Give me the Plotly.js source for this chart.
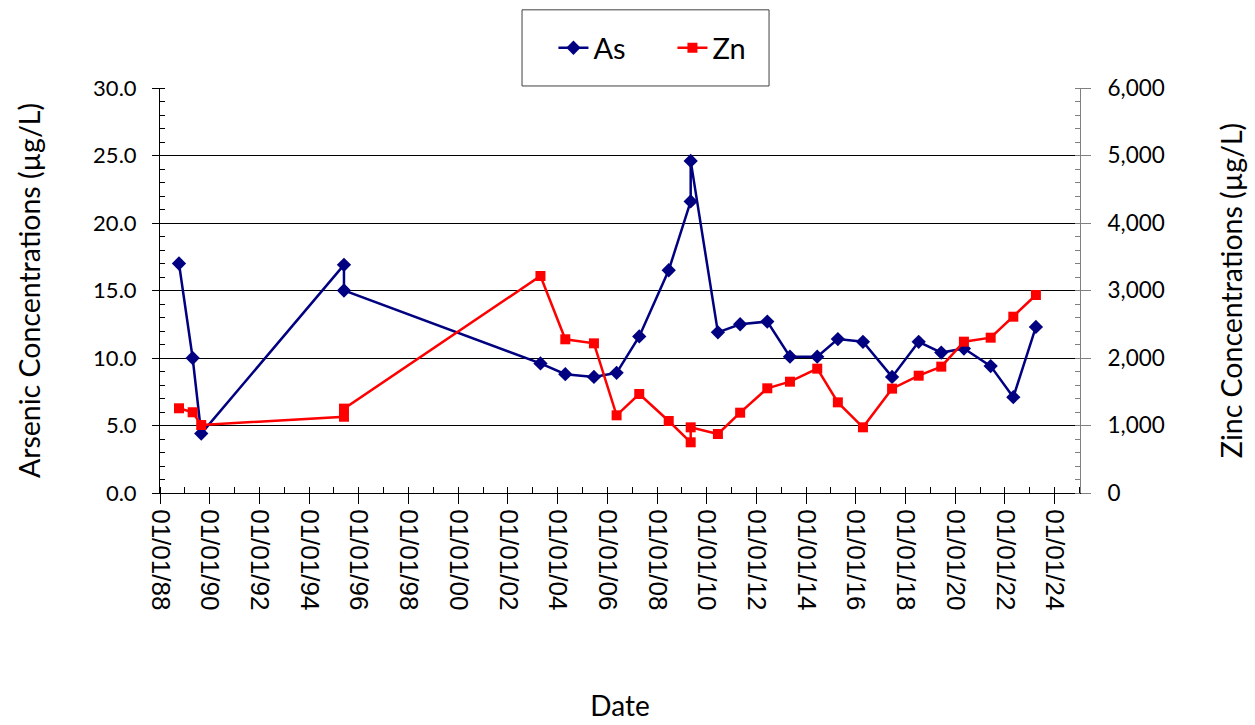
<!DOCTYPE html>
<html>
<head>
<meta charset="utf-8">
<script src="https://cdn.plot.ly/plotly-3.0.1.min.js"></script>
<style>
  html, body { margin: 0; padding: 0; background: #fff; }
  #chart { width: 1255px; height: 725px; }
</style>
</head>
<body>
<div id="chart"></div>
<script>
// Sampling dates (shared by both series)
const sampleDates = [
  "1988-10-06", "1989-04-25", "1989-08-29", "1995-05-28", "1995-05-28",
  "2003-04-24", "2004-04-23", "2005-06-18", "2006-05-17", "2007-04-15",
  "2008-06-21", "2009-05-10", "2009-05-10", "2010-06-14", "2011-05-07",
  "2012-06-09", "2013-05-08", "2014-06-13", "2015-04-12", "2016-04-15",
  "2017-06-17", "2018-07-13", "2019-06-10", "2020-05-08", "2021-06-05",
  "2022-05-04", "2023-04-01"
];
// Arsenic (µg/L)
const asValues = [
  17.0, 10.0, 4.4, 16.9, 15.0,
  9.6, 8.8, 8.6, 8.9, 11.6,
  16.5, 21.6, 24.6, 11.9, 12.5,
  12.7, 10.1, 10.1, 11.4, 11.2,
  8.6, 11.2, 10.4, 10.7, 9.4,
  7.1, 12.3
];
// Zinc (µg/L)
const znValues = [
  1255, 1196, 1007, 1130, 1250,
  3215, 2277, 2217, 1151, 1467,
  1067, 751, 973, 874, 1190,
  1551, 1649, 1842, 1343, 973,
  1546, 1738, 1872, 2242, 2301,
  2612, 2933
];
const seriesNames = ["As", "Zn"];
const xTitle = "Date";
const yTitle = "Arsenic Concentrations (µg/L)";
const y2Title = "Zinc Concentrations (µg/L)";

const calib = "Lato, 'Open Sans', sans-serif";

const traces = [
  {
    x: sampleDates, y: asValues, name: seriesNames[0], type: "scatter", mode: "lines+markers",
    line: { color: "#000080", width: 2.5 },
    marker: { symbol: "diamond", size: 11, color: "#000080" },
    yaxis: "y"
  },
  {
    x: sampleDates, y: znValues, name: seriesNames[1], type: "scatter", mode: "lines+markers",
    line: { color: "#FF0000", width: 2.5 },
    marker: { symbol: "square", size: 10, color: "#FF0000" },
    yaxis: "y2"
  }
];

const layout = {
  width: 1255, height: 725,
  margin: { l: 160, r: 175, t: 88, b: 232 },
  paper_bgcolor: "#fff", plot_bgcolor: "#fff",
  showlegend: true,
  legend: {
    orientation: "h", x: 0.557, xanchor: "center", y: 1.099, yanchor: "middle",
    font: { family: calib, size: 29, color: "#000" },
    bgcolor: "rgba(0,0,0,0)", borderwidth: 0, entrywidth: 74, entrywidthmode: "pixels"
  },
  shapes: [{
    type: "rect", xref: "paper", yref: "paper",
    x0: 0.3935, x1: 0.662, y0: 1.005, y1: 1.193,
    line: { color: "#404040", width: 1 }, fillcolor: "#fff", layer: "below"
  }],
  xaxis: {
    type: "date",
    range: ["1988-01-01", "2025-01-08"],
    tick0: "1988-01-01", dtick: "M24", tickformat: "%m/%d/%y",
    tickangle: 90,
    ticks: "outside", ticklen: 10, tickcolor: "#000", tickwidth: 1,
    minor: { dtick: "M12", ticks: "inside", ticklen: 6, tickcolor: "#000", showgrid: false },
    showline: true, linecolor: "#000", linewidth: 1,
    showgrid: false, zeroline: false,
    tickfont: { family: "'Liberation Sans', Arial, sans-serif", size: 26, color: "#000" },
    title: { text: xTitle, font: { family: calib, size: 28, color: "#000" }, standoff: 86 },
    automargin: false
  },
  yaxis: {
    range: [0, 30], dtick: 5, tick0: 0, tickformat: ".1f",
    ticks: "outside", ticklen: 7, tickcolor: "#000",
    minor: { dtick: 1, ticks: "inside", ticklen: 5, tickcolor: "#000", showgrid: false },
    showline: true, linecolor: "#000", linewidth: 1,
    showgrid: true, gridcolor: "#000", gridwidth: 1, zeroline: false,
    tickfont: { family: calib, size: 22, color: "#000" },
    ticklabelstandoff: 11,
    title: { text: yTitle, font: { family: calib, size: 28.5, color: "#000" }, standoff: 44 },
    automargin: false
  },
  yaxis2: {
    overlaying: "y", side: "right",
    range: [0, 6000], dtick: 1000, tick0: 0, tickformat: ",d",
    ticks: "outside", ticklen: 10, tickcolor: "#808080",
    minor: { dtick: 200, ticks: "inside", ticklen: 5, tickcolor: "#808080", showgrid: false },
    showline: true, linecolor: "#808080", linewidth: 1,
    showgrid: false, zeroline: false,
    tickfont: { family: calib, size: 22.5, color: "#000" },
    ticklabelstandoff: 12,
    title: { text: y2Title, font: { family: calib, size: 28.5, color: "#000" }, standoff: 58 },
    automargin: false
  }
};

Plotly.newPlot("chart", traces, layout, { displayModeBar: false, staticPlot: true });
</script>
</body>
</html>
